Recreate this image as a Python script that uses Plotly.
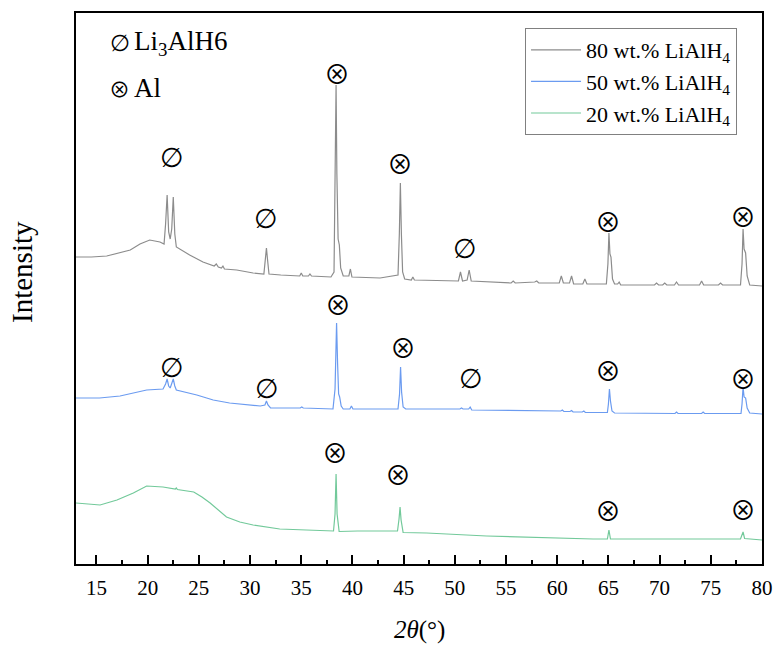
import plotly.graph_objects as go

# ---- XRD patterns (2θ in degrees, intensity in arbitrary units, stacked) ----
tt_80 = [13.0, 14.5, 16.0, 17.2, 18.3, 19.25, 20.2, 21.2, 21.6, 21.75, 21.9, 22.05, 22.2, 22.35,
         22.5, 22.65, 22.8, 24.1, 25.4, 26.5, 26.7, 26.9, 27.2, 27.35, 27.5, 28.7, 30.3, 31.35,
         31.5, 31.6, 31.7, 31.85, 33.0, 34.85, 35.0, 35.15, 35.7, 35.85, 36.0, 37.9, 38.2, 38.32,
         38.4, 38.48, 38.6, 38.72, 38.85, 39.1, 39.65, 39.8, 39.95, 42.7, 44.45, 44.58, 44.68,
         44.78, 44.9, 45.1, 45.75, 45.9, 46.05, 50.35, 50.55, 50.75, 51.2, 51.4, 51.6, 55.5,
         55.7, 55.9, 57.8, 58.0, 58.2, 60.2, 60.4, 60.6, 61.2, 61.4, 61.6, 62.5, 62.7, 62.9,
         64.8, 64.95, 65.05, 65.15, 65.25, 65.4, 65.6, 65.9, 66.05, 66.2, 69.5, 69.7, 69.9,
         70.3, 70.5, 70.7, 71.45, 71.65, 71.85, 73.9, 74.1, 74.3, 75.75, 75.95, 76.15, 77.9,
         78.05, 78.15, 78.25, 78.4, 78.55, 78.8, 79.8, 80.0]
int_80 = [307, 307, 308, 311, 314, 320, 324, 322, 320, 340, 369, 332, 325, 335,
          367, 330, 317, 309, 302, 298, 300, 297, 296, 298, 295, 294, 291, 290,
          305, 316, 305, 290, 289, 288, 291, 288, 288, 290, 288, 287, 292, 380,
          479, 390, 325, 319, 296, 288, 288, 295, 287, 286, 289, 330, 381,
          330, 292, 285, 284, 287, 284, 283, 292, 283, 284, 294, 283, 281,
          283, 281, 282, 283, 281, 281, 288, 281, 281, 288, 280, 280, 285, 280,
          280, 300, 331, 310, 307, 285, 280, 280, 282, 279, 279, 281, 279,
          279, 281, 279, 279, 282, 279, 279, 283, 279, 279, 281, 279, 279,
          300, 335, 315, 311, 288, 279, 278, 278]

tt_50 = [13.0, 15.3, 17.3, 18.6, 19.9, 21.5, 21.75, 21.9, 22.05, 22.2, 22.35, 22.5, 22.65, 22.8,
         24.8, 26.4, 28.0, 31.0, 31.45, 31.6, 31.75, 32.0, 34.9, 35.05, 35.2, 38.1, 38.3, 38.45,
         38.55, 38.65, 38.75, 38.9, 39.1, 39.75, 39.9, 40.05, 44.45, 44.6, 44.7, 44.8, 44.95,
         45.2, 50.5, 50.65, 50.8, 51.35, 51.5, 51.65, 60.35, 60.5, 60.65, 61.25, 61.4, 61.55,
         62.45, 62.6, 62.75, 64.9, 65.0, 65.1, 65.2, 65.35, 65.6, 71.5, 71.65, 71.8, 74.1,
         74.25, 74.4, 77.95, 78.05, 78.15, 78.25, 78.4, 78.55, 78.8, 80.0]
int_50 = [166, 166, 168, 171, 174, 175, 180, 185, 178, 176, 180, 185, 178, 174,
          169, 164, 161, 158, 159, 163, 159, 156, 156, 157, 156, 155, 175, 241,
          200, 170, 167, 158, 155, 155, 158, 155, 155, 170, 197, 172, 157,
          155, 155, 156, 155, 155, 157, 154, 153, 154, 152.5, 152.5, 153.5, 152,
          152, 153, 151.5, 151.5, 160, 175, 163, 153, 151, 150.5, 152, 150.5, 150.5,
          152, 150.5, 150.5, 160, 177, 167, 166, 156, 151, 150]

tt_20 = [13.0, 14.3, 15.35, 17.0, 18.6, 19.9, 21.5, 22.7, 22.8, 22.9, 24.5, 25.3, 26.1, 27.7,
         29.0, 30.3, 32.9, 35.5, 38.15, 38.3, 38.4, 38.5, 38.7, 40.5, 44.4, 44.55, 44.65, 44.75,
         44.95, 47.25, 53.1, 63.5, 64.9, 65.05, 65.2, 77.9, 78.15, 78.3, 80.0]
int_20 = [61, 59.5, 59, 64, 71, 78, 77, 75, 76, 74.5, 72, 67, 61, 47,
          42, 39, 35, 34, 33, 50, 90, 50, 32.5, 33, 33, 45, 57, 44,
          31.5, 31, 28, 25, 25, 34, 25, 25, 32, 25.5, 24]

series_names = ["80 wt.% LiAlH<sub>4</sub>", "50 wt.% LiAlH<sub>4</sub>", "20 wt.% LiAlH<sub>4</sub>"]
series_colors = ["#8c8c8c", "#6b9bf0", "#72c99a"]

# ---- phase markers: (2θ, height, symbol) ----
LI3ALH6 = "\u2205"   # ∅
AL = "\u2297"        # ⊗
markers_80 = [(22.38, 407, LI3ALH6), (31.56, 346, LI3ALH6), (38.49, 492, AL), (44.64, 402, AL),
              (50.99, 316, LI3ALH6), (64.96, 344, AL), (78.14, 349, AL)]
markers_50 = [(22.38, 197, LI3ALH6), (31.65, 176, LI3ALH6), (38.59, 261, AL), (44.94, 218, AL),
              (51.58, 186, LI3ALH6), (64.96, 195, AL), (78.14, 187, AL)]
markers_20 = [(38.30, 113, AL), (44.45, 91, AL), (64.96, 55, AL), (78.14, 56, AL)]

SERIF = "Liberation Serif"
# glyph font and size for each phase symbol
SYMBOL_STYLE = {LI3ALH6: ("DejaVu Sans", 27), AL: ("Noto Sans CJK JP", 26)}
KEY_STYLE = {LI3ALH6: ("DejaVu Sans", 23), AL: ("Noto Sans CJK JP", 21)}

fig = go.Figure()
for tt, inten, name, color in zip([tt_80, tt_50, tt_20], [int_80, int_50, int_20],
                                  series_names, series_colors):
    fig.add_trace(go.Scatter(x=tt, y=inten, mode="lines", name=name,
                             line=dict(color=color, width=1.2)))

annotations = []
for mk in markers_80 + markers_50 + markers_20:
    fam, size = SYMBOL_STYLE[mk[2]]
    annotations.append(dict(x=mk[0], y=mk[1], xref="x", yref="y", text=mk[2],
                            showarrow=False, xanchor="center", yanchor="middle",
                            font=dict(family=fam, size=size, color="black")))

# phase key in the upper-left corner
key_rows = [(0.9456, LI3ALH6, "Li<sub>3</sub>AlH6"), (0.8639, AL, "Al")]
for ky, sym, label in key_rows:
    fam, size = KEY_STYLE[sym]
    annotations.append(dict(x=0.0641, y=ky, xref="paper", yref="paper", xanchor="center",
                            yanchor="middle", showarrow=False, text=sym,
                            font=dict(family=fam, size=size, color="black")))
    annotations.append(dict(x=0.0816, y=ky, xref="paper", yref="paper", xanchor="left",
                            yanchor="middle", showarrow=False, text=label,
                            font=dict(family=SERIF, size=27, color="black")))

# axis titles
annotations.append(dict(x=0.5, y=-0.12, xref="paper", yref="paper", xanchor="center",
                        yanchor="middle", showarrow=False, text="<i>2θ</i>(°)",
                        font=dict(family=SERIF, size=25, color="black")))
annotations.append(dict(x=-0.0787, y=0.53, xref="paper", yref="paper", xanchor="center",
                        yanchor="middle", showarrow=False, text="Intensity", textangle=-90,
                        font=dict(family=SERIF, size=29, color="black")))

fig.update_layout(
    width=776, height=648, autosize=False,
    margin=dict(l=76, r=14, t=13, b=84),
    paper_bgcolor="white", plot_bgcolor="white",
    font=dict(family=SERIF, size=21, color="black"),
    showlegend=True,
    legend=dict(x=0.9636, y=0.9728, xanchor="right", yanchor="top",
                bordercolor="#808080", borderwidth=1, bgcolor="white",
                font=dict(family=SERIF, size=22, color="black"),
                itemwidth=50, tracegroupgap=0),
    annotations=annotations,
)
fig.update_xaxes(
    range=[13, 80], dtick=5, tick0=15, automargin=False,
    ticks="inside", ticklen=9, tickwidth=2, tickcolor="black",
    minor=dict(dtick=2.5, tick0=0, ticks="inside", ticklen=4, tickwidth=2, tickcolor="black"),
    showline=True, linecolor="black", linewidth=2, mirror=True,
    showgrid=False, zeroline=False, ticklabelstandoff=4,
    tickfont=dict(family=SERIF, size=21, color="black"),
)
fig.update_yaxes(
    range=[0, 551], showticklabels=False, ticks="", automargin=False,
    showline=True, linecolor="black", linewidth=2, mirror=True,
    showgrid=False, zeroline=False,
)

fig.write_html("out.html")
